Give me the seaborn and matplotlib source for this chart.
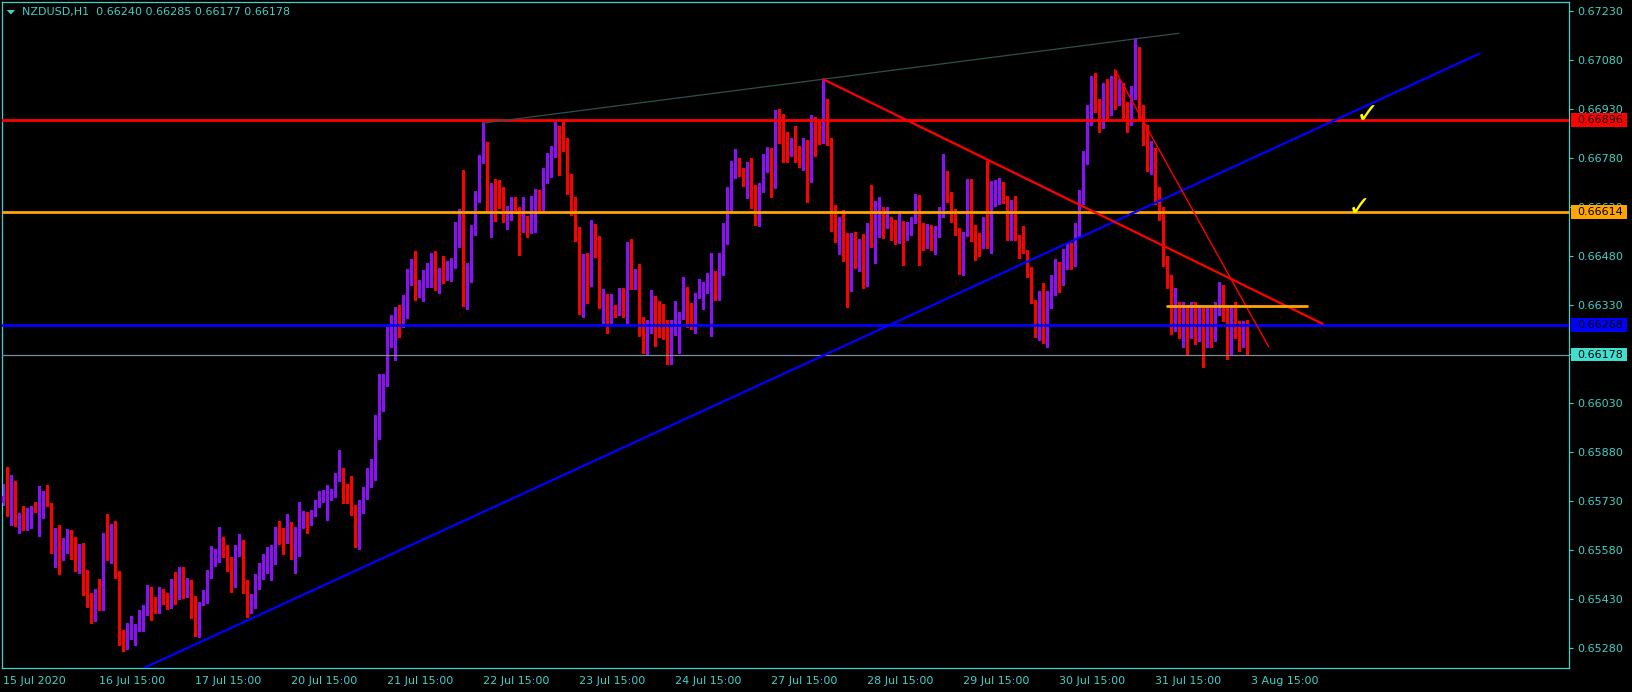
import numpy as np
import pandas as pd
import matplotlib
matplotlib.use("Agg")
import matplotlib.pyplot as plt
import seaborn as sns
from matplotlib.patches import Rectangle, Polygon

# ---------------- data (prices in points, 1 point = 0.00001) ----------------
opens = [65725,65746,65688,65776,65660,65684,65644,65675,65703,65657,65721,65742,65724,65588,65604,65563,65606,65636,65590,65534,
         65558,65507,65412,65395,65455,65441,65591,65587,65645,65501,65308,65300,65337,65321,65345,65369,65391,65460,65427,65405,
         65447,65437,65407,65470,65447,65521,65447,65482,65405,65348,65417,65429,65495,65558,65565,65598,65586,65503,65492,65563,
         65608,65477,65397,65404,65460,65505,65539,65558,65573,65641,65603,65605,65648,65558,65580,65676,65684,65667,65698,65723,
         65748,65697,65741,65748,65792,65794,65757,65757,65715,65609,65725,65742,65810,65829,65955,66061,66092,66214,66239,66277,
         66272,66309,66431,66449,66367,66345,66396,66435,66463,66378,66437,66432,66457,66452,66566,66610,66398,66444,66551,66668,
         66782,66824,66676,66684,66663,66658,66594,66615,66651,66593,66554,66583,66551,66594,66648,66628,66717,66750,66784,66853,
         66847,66824,66720,66615,66549,66303,66488,66447,66574,66541,66343,66353,66299,66319,66299,66381,66330,66521,66419,66426,
         66291,66233,66263,66333,66322,66263,66253,66158,66261,66261,66296,66377,66307,66294,66360,66367,66370,66236,66403,66389,
         66424,66566,66666,66745,66767,66746,66700,66709,66648,66615,66700,66781,66807,66722,66910,66908,66809,66786,66822,66782,
         66769,66828,66708,66893,66870,66826,66916,66824,66594,66584,66592,66500,66419,66540,66465,66513,66404,66574,66554,66605,
         66608,66584,66589,66559,66533,66570,66552,66568,66585,66656,66570,66539,66568,66513,66568,66602,66728,66672,66592,66556,
         66435,66544,66653,66549,66534,66513,66553,66551,66641,66679,66695,66650,66531,66646,66533,66523,66492,66440,66342,66264,
         66347,66248,66342,66380,66440,66400,66470,66500,66460,66560,66650,66780,66900,67000,66940,66890,66990,66930,67010,66960,
         67000,66920,66900,66980,67080,66920,66850,66770,66800,66660,66620,66470,66400,66300,66330,66270,66320,66260,66320,66250,
         66310,66230,66300,66240,66320,66380,66310,66190,66300,66260,66220,66240]
highs = [65782,65835,65810,65792,65693,65713,65708,65713,65727,65776,65761,65779,65724,65648,65657,65618,65645,65640,65620,65599,
         65602,65520,65449,65461,65492,65632,65691,65660,65669,65516,65336,65357,65379,65354,65397,65412,65473,65468,65437,65466,
         65461,65447,65491,65512,65528,65528,65493,65487,65439,65422,65457,65518,65592,65582,65650,65621,65595,65559,65595,65629,
         65611,65488,65445,65507,65539,65569,65589,65595,65650,65669,65646,65690,65665,65650,65727,65699,65695,65702,65733,65759,
         65764,65779,65767,65815,65886,65830,65782,65806,65718,65733,65774,65832,65859,65993,66119,66119,66263,66299,66323,66330,
         66360,66439,66469,66495,66406,66437,66458,66488,66495,66442,66480,66464,66473,66583,66624,66743,66457,66573,66678,66789,
         66888,66828,66704,66714,66712,66690,66633,66659,66661,66629,66660,66603,66663,66685,66682,66748,66794,66816,66888,66877,
         66896,66842,66731,66661,66569,66486,66488,66590,66578,66541,66379,66363,66363,66328,66381,66381,66521,66532,66440,66455,
         66294,66284,66375,66357,66342,66333,66284,66285,66342,66307,66416,66384,66337,66365,66409,66401,66428,66490,66434,66490,
         66579,66692,66770,66807,66778,66750,66767,66780,66697,66704,66792,66812,66809,66926,66929,66914,66860,66840,66878,66816,
         66840,66835,66911,66904,66895,67020,66960,66839,66635,66598,66620,66551,66551,66552,66530,66547,66579,66697,66648,66660,
         66630,66630,66598,66589,66610,66585,66582,66600,66670,66667,66580,66577,66575,66572,66629,66792,66740,66674,66623,66565,
         66554,66714,66714,66574,66549,66598,66769,66709,66712,66718,66706,66663,66651,66663,66544,66570,66498,66445,66345,66373,
         66398,66371,66420,66470,66460,66500,66520,66520,66580,66680,66800,66940,67030,67040,66960,67010,67020,67030,67050,67020,
         67010,66950,67000,67145,67120,66940,66880,66830,66810,66690,66630,66480,66420,66380,66340,66340,66330,66340,66340,66330,
         66320,66320,66320,66340,66400,66390,66320,66330,66340,66280,66280,66285]
lows = [65718,65684,65657,65652,65633,65640,65640,65648,65695,65623,65678,65715,65572,65528,65507,65548,65572,65553,65517,65508,
        65443,65404,65358,65363,65395,65395,65550,65539,65493,65288,65272,65276,65308,65288,65333,65333,65382,65366,65386,65388,
        65414,65399,65402,65415,65429,65434,65437,65373,65318,65315,65413,65418,65495,65532,65544,65557,65516,65452,65468,65560,
        65449,65376,65386,65402,65459,65491,65509,65488,65537,65597,65567,65602,65552,65508,65560,65646,65633,65657,65685,65711,
        65728,65672,65733,65743,65792,65723,65723,65687,65590,65582,65692,65737,65774,65794,65920,66006,66082,66202,66161,66233,
        66263,66289,66390,66345,66355,66342,66384,66386,66374,66367,66397,66406,66403,66444,66508,66325,66318,66401,66544,66644,
        66763,66617,66539,66585,66625,66582,66561,66590,66610,66483,66552,66539,66549,66554,66610,66620,66704,66720,66781,66726,
        66802,66668,66605,66524,66303,66294,66337,66389,66475,66320,66275,66245,66273,66292,66299,66292,66275,66379,66378,66236,
        66182,66175,66243,66205,66233,66226,66150,66150,66238,66182,66286,66261,66255,66245,66352,66318,66365,66236,66345,66345,
        66421,66516,66618,66718,66724,66694,66658,66625,66574,66571,66676,66735,66660,66687,66826,66768,66768,66786,66768,66753,
        66742,66646,66707,66785,66822,66826,66819,66556,66523,66485,66465,66324,66373,66443,66434,66382,66389,66506,66457,66538,
        66535,66564,66528,66516,66520,66452,66529,66544,66580,66452,66498,66503,66498,66486,66537,66600,66646,66582,66544,66425,
        66422,66541,66524,66468,66478,66503,66505,66488,66631,66639,66643,66527,66527,66529,66473,66488,66415,66335,66231,66223,
        66213,66202,66320,66360,66370,66390,66440,66440,66450,66540,66640,66760,66880,66920,66860,66870,66900,66910,66930,66940,
        66900,66860,66880,66960,66900,66820,66740,66730,66640,66590,66450,66380,66240,66250,66230,66200,66180,66230,66210,66220,
        66140,66200,66200,66220,66300,66280,66165,66180,66230,66190,66200,66177]
closes = [65746,65684,65776,65660,65684,65647,65674,65703,65697,65718,65738,65724,65588,65599,65563,65611,65637,65588,65534,65558,
          65504,65406,65392,65452,65441,65587,65585,65645,65499,65306,65302,65339,65348,65345,65369,65391,65461,65422,65400,65447,
          65434,65407,65470,65443,65514,65447,65482,65404,65345,65417,65427,65493,65555,65565,65608,65584,65519,65492,65561,65608,
          65480,65396,65405,65461,65507,65542,65558,65573,65641,65600,65602,65646,65557,65580,65675,65681,65670,65698,65723,65750,
          65760,65742,65748,65794,65797,65752,65752,65713,65608,65730,65742,65809,65828,65955,66064,66094,66220,66240,66274,66272,
          66310,66431,66449,66367,66403,66397,66437,66464,66378,66436,66435,66460,66460,66575,66610,66398,66447,66552,66671,66786,
          66829,66673,66684,66661,66658,66594,66615,66651,66610,66548,66580,66551,66595,66648,66628,66720,66751,66786,66853,66842,
          66824,66719,66615,66548,66303,66486,66441,66574,66516,66345,66357,66299,66342,66296,66381,66330,66521,66419,66426,66291,
          66236,66266,66333,66320,66258,66255,66158,66263,66265,66296,66377,66306,66294,66359,66368,66372,66406,66381,66389,66421,
          66568,66666,66746,66766,66745,66697,66712,66648,66615,66700,66785,66807,66720,66910,66908,66807,66785,66824,66782,66771,
          66836,66740,66893,66868,66828,66915,66822,66589,66586,66589,66500,66419,66540,66464,66515,66406,66574,66554,66605,66610,
          66587,66589,66561,66526,66596,66552,66570,66585,66656,66561,66537,66572,66514,66568,66605,66728,66663,66592,66554,66435,
          66548,66653,66549,66531,66513,66554,66551,66641,66679,66704,66648,66531,66646,66531,66521,66490,66439,66340,66264,66347,
          66248,66342,66380,66440,66400,66470,66500,66460,66560,66650,66780,66900,67000,66940,66890,66990,66930,67010,66960,67000,
          66920,66900,66980,67080,66920,66850,66770,66800,66660,66620,66470,66400,66300,66330,66270,66320,66260,66320,66250,66310,
          66230,66300,66240,66320,66380,66310,66190,66300,66260,66220,66240,66178]

symbol_header = "NZDUSD,H1  0.66240 0.66285 0.66177 0.66178"
xtick_bars = [0, 24, 48, 72, 96, 120, 144, 168, 192, 216, 240, 264, 288, 312]
xtick_labels = ["15 Jul 2020", "16 Jul 15:00", "17 Jul 15:00", "20 Jul 15:00", "21 Jul 15:00",
                "22 Jul 15:00", "23 Jul 15:00", "24 Jul 15:00", "27 Jul 15:00", "28 Jul 15:00",
                "29 Jul 15:00", "30 Jul 15:00", "31 Jul 15:00", "3 Aug 15:00"]
ytick_values = [0.65280, 0.65430, 0.65580, 0.65730, 0.65880, 0.66030, 0.66180,
                0.66330, 0.66480, 0.66630, 0.66780, 0.66930, 0.67080, 0.67230]

hline_prices = [0.66896, 0.66614, 0.66268]
hline_colors = ["#FF0000", "#FFA500", "#0000FF"]
bid_price = 0.66178

blue_trend_bar = [35, 368.9]
blue_trend_price = [0.65218, 0.67098]
red_trend_bar = [205, 329.8]
red_trend_price = [0.67020, 0.66272]
steep_trend_bar = [277.8, 316.3]
steep_trend_price = [0.67050, 0.66202]
gray_trend_bar = [120, 293.9]
gray_trend_price = [0.66886, 0.67161]
short_level_bar = [290.8, 325.9]
short_level_price = [0.66326, 0.66326]
check_bar = [341.0, 338.9]
check_price = [0.66912, 0.66625]

# ---------------- style ----------------
sns.set_theme(style="dark", rc={"axes.facecolor": "black", "figure.facecolor": "black"})
plt.rcParams["font.family"] = ["DejaVu Sans"]
FG = "#3ED2C8"
BULL = "#8A10F5"
BEAR = "#FF0000"

W, H = 1633, 692
fig = plt.figure(figsize=(W / 100, H / 100), dpi=100)
ax = fig.add_axes([2 / W, 24 / H, 1567 / W, 666 / H])
ax.set_facecolor("black")

o = np.array(opens) / 1e5
h = np.array(highs) / 1e5
l = np.array(lows) / 1e5
c = np.array(closes) / 1e5
x = np.arange(len(o))
cols = np.where(c >= o, BULL, BEAR)

ax.set_xlim(-0.325, 391.4)
ax.set_ylim(0.652188, 0.672566)

px_price = (0.672566 - 0.652188) / 666.0
ax.vlines(x, l, h, colors=cols, linewidth=0.75, antialiased=False, zorder=2)
body_bottom = np.minimum(o, c)
body_h = np.maximum(np.abs(c - o), px_price)
ax.bar(x, body_h, bottom=body_bottom, width=0.74, color=cols, linewidth=0,
       antialiased=False, zorder=3)

# horizontal levels
for p, col in zip(hline_prices, hline_colors):
    ax.axhline(p, color=col, lw=2.0, zorder=5)
ax.axhline(bid_price, color="#7F8C99", lw=0.9, zorder=5)

# trend lines (seaborn)
def trend(bars, prices, color, lw):
    df = pd.DataFrame({"bar": bars, "price": prices})
    sns.lineplot(data=df, x="bar", y="price", color=color, linewidth=lw, ax=ax,
                 legend=False, zorder=6)

trend(gray_trend_bar, gray_trend_price, "#2F4F4F", 0.9)
trend(blue_trend_bar, blue_trend_price, "#0000FF", 1.6)
trend(red_trend_bar, red_trend_price, "#FF0000", 1.6)
trend(steep_trend_bar, steep_trend_price, "#FF0000", 1.0)
trend(short_level_bar, short_level_price, "#FFA500", 2.0)

for bx, py in zip(check_bar, check_price):
    ax.text(bx, py, "\u2713", color="#FFFF00", fontsize=20, fontweight="bold",
            ha="center", va="center", zorder=7)

# axes decorations
ax.set_xlabel("")
ax.set_ylabel("")
ax.set_xticks(xtick_bars)
ax.set_xticklabels(xtick_labels, ha="left")
ax.yaxis.tick_right()
ax.set_yticks(ytick_values)
ax.set_yticklabels([f"{v:.5f}" for v in ytick_values])
ax.tick_params(axis="x", colors=FG, labelcolor=FG, labelsize=8, length=3, width=0.8, pad=3, direction="out")
ax.tick_params(axis="y", colors=FG, labelcolor=FG, labelsize=8, length=3, width=0.8, pad=3, direction="out",
               right=True, left=False)
ax.grid(False)
for s in ax.spines.values():
    s.set_visible(True)
    s.set_color(FG)
    s.set_linewidth(0.9)

# right price labels (drawn over the axis tick labels, as in the terminal)
def fig_y(p):
    d = ax.transData.transform((0, p))
    return fig.transFigure.inverted().transform(d)[1]

labels = [(0.66896, "#FF0000"), (0.66614, "#FFA500"), (0.66268, "#0000FF"), (bid_price, "#40E0D0")]
for p, col in labels:
    yc = fig_y(p)
    fig.patches.append(Rectangle((1571 / W, yc - 6.7 / H), 56 / W, 13.4 / H,
                                 transform=fig.transFigure, facecolor=col, edgecolor="none", zorder=5))
    fig.text(1577 / W, yc, f"{p:.5f}", color="black", fontsize=8, ha="left", va="center", zorder=6)

# header
fig.patches.append(Polygon([[6.7 / W, 1 - 10 / H], [15 / W, 1 - 10 / H], [10.8 / W, 1 - 14.5 / H]],
                           closed=True, transform=fig.transFigure, facecolor=FG, edgecolor="none", zorder=5))
fig.text(21.7 / W, 1 - 12.5 / H, symbol_header, color=FG, fontsize=8, ha="left", va="center", zorder=6)

fig.savefig("out.png", dpi=100, facecolor="black")
